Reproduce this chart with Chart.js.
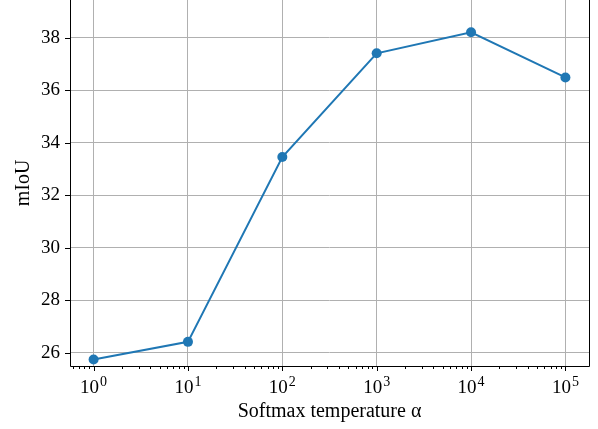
<!DOCTYPE html>
<html>
<head>
<meta charset="utf-8">
<script src="https://cdn.jsdelivr.net/npm/chart.js@4.4.1/dist/chart.umd.min.js"></script>
<style>
html,body{margin:0;padding:0;background:#fff;}
#wrap{width:598px;height:429px;position:relative;}
</style>
</head>
<body>
<div id="wrap"><canvas id="c" width="598" height="429"></canvas></div>
<script>
const temperatures = [1, 10, 100, 1000, 10000, 100000];
const miou = [25.74, 26.41, 33.45, 37.40, 38.20, 36.48];
const xMajorTicks = [1, 10, 100, 1000, 10000, 100000];
const xTickBase = '10';
const xTickExponents = ['0', '1', '2', '3', '4', '5'];
const yTicks = [26, 28, 30, 32, 34, 36, 38];

const FONT = "'Liberation Serif', 'DejaVu Serif', serif";

const tickPlugin = {
  id: 'mplTicks',
  afterDraw(chart) {
    const ctx = chart.ctx;
    const xs = chart.scales.x, ys = chart.scales.y;
    const a = chart.chartArea;
    ctx.save();
    ctx.strokeStyle = '#000';
    ctx.lineWidth = 1;
    ctx.beginPath();
    ctx.moveTo(a.left + 0.5, a.top);
    ctx.lineTo(a.left + 0.5, a.bottom + 0.5);
    ctx.lineTo(a.right + 0.5, a.bottom + 0.5);
    ctx.lineTo(a.right + 0.5, a.top);
    ctx.stroke();
    const lo = Math.floor(Math.log10(xs.min)), hi = Math.ceil(Math.log10(xs.max));
    ctx.beginPath();
    for (let e = lo; e <= hi; e++) {
      for (let m = 1; m <= 9; m++) {
        const v = m * Math.pow(10, e);
        if (v < xs.min || v > xs.max) continue;
        const px = Math.round(xs.getPixelForValue(v)) + 0.5;
        const len = (m === 1) ? 5 : 3;
        ctx.moveTo(px, a.bottom);
        ctx.lineTo(px, a.bottom + len);
      }
    }
    yTicks.forEach(v => {
      const py = Math.round(ys.getPixelForValue(v)) + 0.5;
      ctx.moveTo(a.left, py);
      ctx.lineTo(a.left - 5, py);
    });
    ctx.stroke();
    // x tick labels with superscript exponents
    ctx.fillStyle = '#000';
    ctx.textBaseline = 'alphabetic';
    ctx.textAlign = 'left';
    const baseFont = '19px ' + FONT, supFont = '14px ' + FONT;
    xMajorTicks.forEach((v, i) => {
      ctx.font = baseFont;
      const wb = ctx.measureText(xTickBase).width;
      ctx.font = supFont;
      const ws = ctx.measureText(xTickExponents[i]).width;
      const px = xs.getPixelForValue(v);
      const x0 = px - (wb + ws + 1) / 2;
      const baseY = a.bottom + 27;
      ctx.font = baseFont;
      ctx.fillText(xTickBase, x0, baseY);
      ctx.font = supFont;
      ctx.fillText(xTickExponents[i], x0 + wb + 1, baseY - 7);
    });
    ctx.restore();
  }
};

new Chart(document.getElementById('c'), {
  type: 'line',
  data: {
    labels: temperatures,
    datasets: [{
      data: temperatures.map((t, i) => ({x: t, y: miou[i]})),
      borderColor: '#1f77b4',
      backgroundColor: '#1f77b4',
      borderWidth: 2,
      pointRadius: 5,
      pointHoverRadius: 5,
      pointBorderWidth: 0,
      tension: 0,
      fill: false,
      clip: false
    }]
  },
  options: {
    responsive: false,
    animation: false,
    events: [],
    layout: {autoPadding: false, padding: {left: 0, right: 9, top: 0, bottom: 0}},
    plugins: {legend: {display: false}, tooltip: {enabled: false}},
    scales: {
      x: {
        type: 'logarithmic',
        min: 0.5623,
        max: 177828,
        afterBuildTicks: s => { s.ticks = xMajorTicks.map(v => ({value: v})); },
        afterFit: s => { s.height = 63; s.paddingLeft = 0; s.paddingRight = 0; },
        border: {display: false},
        grid: {color: '#b0b0b0', lineWidth: 1, drawTicks: false},
        ticks: {display: false},
        title: {display: true, text: 'Softmax temperature α', color: '#000',
                font: {family: FONT, size: 20}, padding: {top: 0, bottom: 5.5}}
      },
      y: {
        min: 25.49,
        max: 39.43,
        afterBuildTicks: s => { s.ticks = yTicks.map(v => ({value: v})); },
        afterFit: s => { s.width = 70; s.paddingTop = 0; s.paddingBottom = 0; },
        border: {display: false},
        grid: {color: '#b0b0b0', lineWidth: 1, drawTicks: false},
        ticks: {
          padding: 10,
          color: '#000',
          font: {family: FONT, size: 19}
        },
        title: {display: true, text: 'mIoU', color: '#000',
                font: {family: FONT, size: 20}, padding: {top: 11.5, bottom: 0}}
      }
    }
  },
  plugins: [tickPlugin]
});
</script>
</body>
</html>
